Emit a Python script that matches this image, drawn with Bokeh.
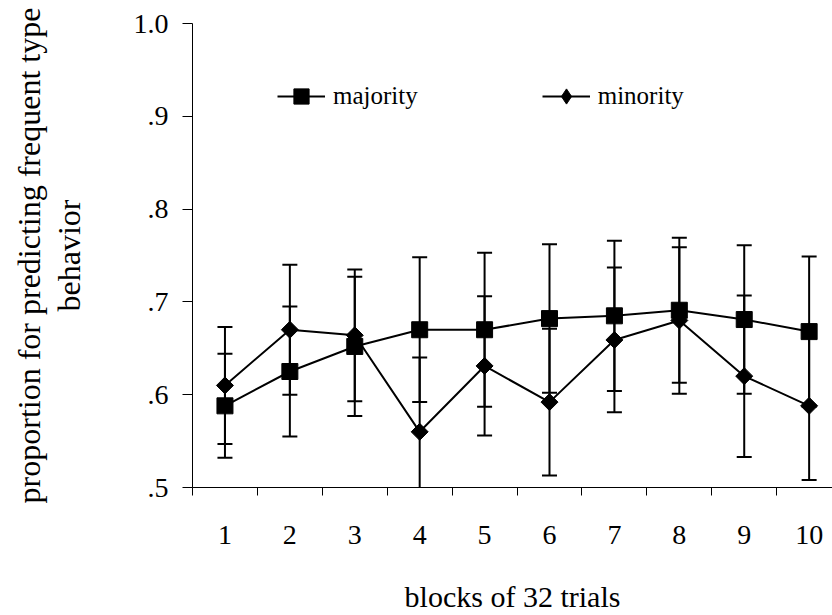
import numpy as np
from bokeh.plotting import figure
from bokeh.models import FixedTicker, Legend, LegendItem, Range1d
from bokeh.embed import file_html
from bokeh.resources import INLINE

# ---- data ----
blocks = [1, 2, 3, 4, 5, 6, 7, 8, 9, 10]
x_tick_labels = ["1", "2", "3", "4", "5", "6", "7", "8", "9", "10"]
majority = [0.588, 0.625, 0.652, 0.670, 0.670, 0.682, 0.685, 0.691, 0.681, 0.668]
majority_err = [0.056, 0.070, 0.075, 0.078, 0.083, 0.080, 0.081, 0.078, 0.080, 0.081]
minority = [0.610, 0.670, 0.664, 0.560, 0.631, 0.592, 0.659, 0.680, 0.620, 0.588]
minority_err = [0.063, 0.070, 0.071, 0.080, 0.075, 0.079, 0.078, 0.079, 0.087, 0.080]
y_ticks = [0.5, 0.6, 0.7, 0.8, 0.9, 1.0]
y_tick_labels = [".5", ".6", ".7", ".8", ".9", "1.0"]
series_names = ["majority", "minority"]

FONT = "Liberation Serif"

p = figure(width=832, height=615,
           x_range=Range1d(0.5, 10.36), y_range=Range1d(0.5, 1.0),
           output_backend="svg", toolbar_location=None,
           min_border_left=192, min_border_right=0,
           min_border_top=23, min_border_bottom=126)
p.outline_line_color = None
p.xgrid.grid_line_color = None
p.ygrid.grid_line_color = None
p.background_fill_color = "white"

# axes
xa = p.xaxis[0]
xa.ticker = FixedTicker(ticks=blocks, minor_ticks=[b - 0.5 for b in blocks])
xa.major_label_overrides = {b: l for b, l in zip(blocks, x_tick_labels)}
xa.major_tick_out = 0
xa.major_tick_in = 0
xa.minor_tick_out = 8
xa.minor_tick_in = 0
xa.minor_tick_line_color = "black"
xa.axis_line_color = "black"
xa.major_label_text_font = FONT
xa.major_label_text_font_size = "28px"
xa.major_label_text_color = "black"
xa.major_label_standoff = 30
xa.axis_label = "blocks of 32 trials"
xa.axis_label_text_font = FONT
xa.axis_label_text_font_size = "30px"
xa.axis_label_text_font_style = "normal"
xa.axis_label_text_color = "black"
xa.axis_label_standoff = 33

ya = p.yaxis[0]
ya.ticker = FixedTicker(ticks=y_ticks, minor_ticks=[])
ya.major_label_overrides = {t: l for t, l in zip(y_ticks, y_tick_labels)}
ya.major_tick_out = 10
ya.major_tick_in = 0
ya.major_tick_line_color = "black"
ya.axis_line_color = "black"
ya.major_label_text_font = FONT
ya.major_label_text_font_size = "28px"
ya.major_label_text_color = "black"
ya.major_label_standoff = 14
ya.axis_label = "proportion for predicting frequent type\nbehavior"
ya.axis_label_text_font = FONT
ya.axis_label_text_font_size = "32px"
ya.axis_label_text_font_style = "normal"
ya.axis_label_text_line_height = 1.1
ya.axis_label_text_color = "black"
ya.axis_label_standoff = 44

# error bars (segments + caps, clipped to the frame)
def error_bars(vals, errs):
    v = np.array(vals)
    e = np.array(errs)
    lo, hi = v - e, v + e
    p.segment(x0=blocks, y0=lo, x1=blocks, y1=hi, line_color="black", line_width=2)
    p.scatter(blocks, hi, marker="dash", size=15, line_color="black", line_width=2)
    p.scatter(blocks, lo, marker="dash", size=15, line_color="black", line_width=2)

error_bars(minority, minority_err)
error_bars(majority, majority_err)

min_line = p.line(blocks, minority, line_color="black", line_width=2)
min_mark = p.scatter(blocks, minority, marker="square", angle=np.pi / 4, size=12,
                     fill_color="black", line_color="black")
maj_line = p.line(blocks, majority, line_color="black", line_width=2)
maj_mark = p.scatter(blocks, majority, marker="square", size=16,
                     fill_color="black", line_color="black")
# diamond symbol used for the legend key only (not drawn in the plot)
min_key = p.scatter(blocks, minority, marker="diamond", fill_color="black",
                    line_color="black", visible=False)

legend = Legend(items=[LegendItem(label=series_names[0], renderers=[maj_line, maj_mark]),
                       LegendItem(label=series_names[1], renderers=[min_line, min_key])],
                orientation="horizontal", location=(85, 372),
                glyph_width=48, glyph_height=38, spacing=124, label_standoff=8,
                padding=0, margin=0, border_line_color=None,
                background_fill_alpha=0)
legend.label_text_font = FONT
legend.label_text_font_style = "normal"
legend.label_text_font_size = "25px"
legend.label_text_color = "black"
p.add_layout(legend)

open("out.html", "w").write(file_html(p, INLINE))
